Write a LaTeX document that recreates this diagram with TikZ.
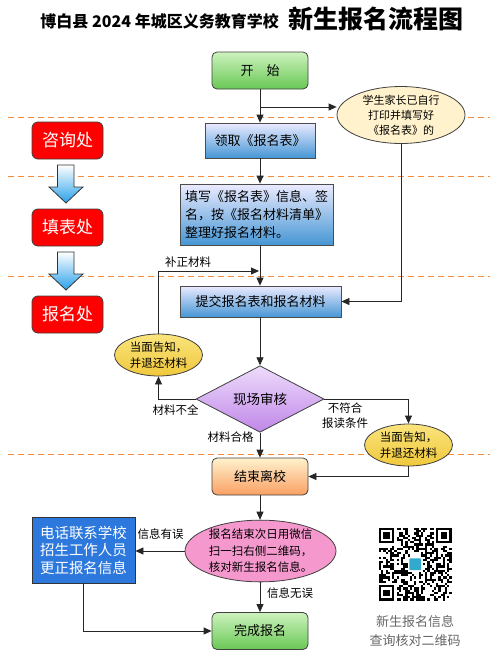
\documentclass[tikz,border=0pt]{standalone}
\usepackage{fontspec}
\setmainfont{Noto Sans CJK SC}
\usepackage{xcolor}
\usetikzlibrary{shapes.geometric,arrows.meta}

\definecolor{sepline}{RGB}{244,140,60}
\definecolor{deskred}{RGB}{255,0,0}
\definecolor{fixblue}{RGB}{45,120,220}
\definecolor{qrteal}{RGB}{50,170,205}

\begin{document}
\begin{tikzpicture}[x=1pt, y=-1pt, >={Triangle[length=8pt,width=7pt]},
    line/.style={draw=black!85, line width=0.8pt},
    lbl/.style={font=\fontsize{11.5}{15}\selectfont, align=center, inner sep=0pt},
    stepbox/.style={rectangle, draw=black!70, line width=0.8pt, top color=blue!8, bottom color={rgb,255:red,70;green,150;blue,212}, minimum height=35pt, inner sep=0pt, align=left, font=\fontsize{13}{18}\selectfont},
    startbox/.style={rectangle, rounded corners=5pt, draw=black!75, line width=0.8pt, top color={rgb,255:red,205;green,242;blue,190}, bottom color={rgb,255:red,105;green,200;blue,85}, minimum width=96pt, minimum height=37pt, inner sep=0pt, font=\fontsize{13}{16}\selectfont},
    endbox/.style={startbox, top color={rgb,255:red,255;green,242;blue,205}, bottom color={rgb,255:red,250;green,160;blue,100}},
    deskbox/.style={rectangle, rounded corners=6pt, draw=black!75, line width=0.8pt, fill=deskred, text=white, minimum width=71pt, minimum height=37pt, inner sep=0pt, font=\fontsize{17}{20}\selectfont},
    backell/.style={ellipse, draw=black!75, line width=0.8pt, top color={rgb,255:red,250;green,228;blue,125}, bottom color={rgb,255:red,240;green,200;blue,60}, minimum width=88pt, minimum height=42pt, inner sep=0pt, align=center, font=\fontsize{11.5}{16}\selectfont},
    selfell/.style={ellipse, draw=black!75, line width=0.8pt, fill={rgb,255:red,255;green,242;blue,204}, minimum width=128pt, minimum height=54pt, inner sep=0pt, align=center, font=\fontsize{11}{15}\selectfont},
    scanell/.style={ellipse, draw=black!75, line width=0.8pt, fill={rgb,255:red,245;green,152;blue,205}, minimum width=151pt, minimum height=59pt, inner sep=0pt, align=center, font=\fontsize{11.5}{16.5}\selectfont},
    checkdia/.style={diamond, draw=black!75, line width=0.8pt, top color={rgb,255:red,238;green,220;blue,252}, bottom color={rgb,255:red,192;green,135;blue,232}, minimum width=128pt, minimum height=58pt, inner sep=0pt, font=\fontsize{13.5}{16}\selectfont},
    fixbox/.style={rectangle, draw=black!80, line width=0.8pt, fill=fixblue, text=white, minimum width=103pt, minimum height=66pt, inner sep=0pt, align=center, font=\fontsize{14.5}{17.5}\selectfont}
]
    \useasboundingbox (0,0) rectangle (500,654);

    % title
    \node[font=\fontsize{16}{18}\bfseries, anchor=east, inner sep=0pt] (ttl) at (279,21) {博白县 2024 年城区义务教育学校};
    \node[font=\fontsize{25}{28}\bfseries, anchor=west, inner sep=0pt] (ttlbig) at (288,19) {新生报名流程图};

    % separators
    \foreach \y in {117,176,276,454}
        \draw[sepline, line width=1pt, dash pattern=on 6pt off 4pt] (8,\y) -- (490,\y);

    % left column
    \node[deskbox] (consult) at (67.5,140.5) {咨询处};
    \node[deskbox] (fillin) at (67.5,227.5) {填表处};
    \node[deskbox] (apply) at (67.5,314.5) {报名处};
    \foreach \y in {165,252}
        \shade[draw=black!80, line width=0.8pt, top color=white, bottom color={rgb,255:red,40;green,160;blue,235}]
            (57.5,\y) -- (74,\y) -- (74,\y+22) -- (83,\y+22) -- (66,\y+38) -- (49,\y+22) -- (57.5,\y+22) -- cycle;

    % main flow
    \node[startbox] (start) at (260,70.5) {开\hspace{1em}始};
    \node[selfell] (selfform) at (401,115) {学生家长已自行\\打印并填写好\\《报名表》的};
    \node[stepbox, minimum width=110pt] (getform) at (260,140.5) {领取《报名表》};
    \node[stepbox, minimum width=153pt, minimum height=61pt] (fillform) at (256.5,214.5) {填写《报名表》信息、签\\名，按《报名材料清单》\\整理好报名材料。};
    \node[stepbox, minimum width=161pt, minimum height=31pt] (submit) at (260.5,301.5) {提交报名表和报名材料};
    \node[checkdia] (check) at (260,399) {现场审核};
    \node[backell] (backL) at (158.5,355) {当面告知，\\并退还材料};
    \node[backell] (backR) at (408.5,445) {当面告知，\\并退还材料};
    \node[endbox] (leave) at (260,476.5) {结束离校};
    \node[scanell] (scan) at (260.5,551) {报名结束次日用微信\\扫一扫右侧二维码，\\核对新生报名信息。};
    \node[fixbox] (fixinfo) at (83.5,550) {电话联系学校\\招生工作人员\\更正报名信息};
    \node[startbox] (done) at (260,631) {完成报名};

    \coordinate (selfpt) at (260,107);
    \coordinate (fixpt) at (259,271);

    \draw[line, ->] (start) -- (getform);
    \draw[line, ->] (selfpt) -- (selfpt -| selfform.west);
    \draw[line, ->] (selfform.south) |- (submit.east);
    \draw[line, ->] (getform.south) -- (getform.south |- fillform.north);
    \draw[line, ->] (getform.south |- fillform.south) -- (getform.south |- submit.north);
    \draw[line, ->] (backL.north) |- (fixpt);
    \draw[line, ->] (getform.south |- submit.south) -- (check.north);
    \draw[line, ->] (check.west) -| (backL.south);
    \draw[line, ->] (check.east) -| (backR.north);
    \draw[line, ->] (check.south) -- (leave.north);
    \draw[line, ->] (backR.south) |- (leave.east);
    \draw[line, ->] (leave.south) -- (leave.south |- scan.north);
    \draw[line, ->] (scan.west) -- (scan.west -| fixinfo.east);
    \draw[line, ->] (leave.south |- scan.south) -- (done.north);
    \draw[line, ->] (fixinfo.south) |- (done.west);

    % labels
    \node[lbl] (fixlbl) at (188,262) {补正材料};
    \node[lbl] (lacklbl) at (175.5,410) {材料不全};
    \node[lbl] (nolbl) at (345,415.5) {不符合\\报读条件};
    \node[lbl] (oklbl) at (230.5,437) {材料合格};
    \node[lbl] (errlbl) at (160.5,534) {信息有误};
    \node[lbl] (rightlbl) at (290,593) {信息无误};

    % qr code
    \begin{scope}[shift={(379,528)}, x=2.2pt, y=-2.2pt]
        \pgfmathsetseed{11}
        \foreach \i in {0,...,32}{
            \foreach \j in {0,...,32}{
                \pgfmathtruncatemacro{\qrbit}{((\i<8 && \j<8) || (\i>24 && \j<8) || (\i<8 && \j>24) || (\i>12 && \i<20 && \j>12 && \j<20)) ? 0 : (rnd>0.5 ? 1 : 0)}
                \ifnum\qrbit=1 \fill (\i,\j) rectangle ++(1,1); \fi
            }
        }
        \foreach \fx/\fy in {0/0,26/0,0/26}{
            \fill (\fx,\fy) rectangle ++(7,7);
            \fill[white] (\fx+1,\fy+1) rectangle ++(5,5);
            \fill (\fx+2,\fy+2) rectangle ++(3,3);
        }
        \fill[qrteal, rounded corners=1pt] (13.8,13.8) rectangle (19.2,19.2);
    \end{scope}
    \node[font=\fontsize{13}{19}\selectfont, text=black!60, align=center, inner sep=0pt] (qrcap) at (415,630.5) {新生报名信息\\查询核对二维码};
\end{tikzpicture}
\end{document}
